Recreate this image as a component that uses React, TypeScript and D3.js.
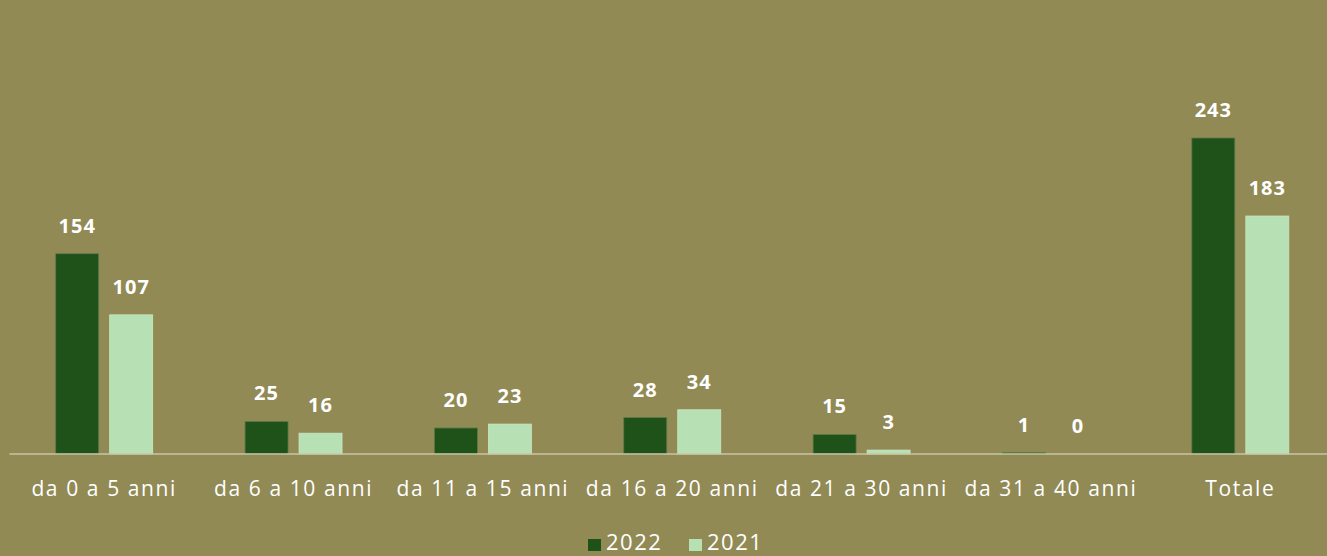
import React from "react";
import * as d3 from "d3";

const categories = ["da 0 a 5 anni", "da 6 a 10 anni", "da 11 a 15 anni", "da 16 a 20 anni", "da 21 a 30 anni", "da 31 a 40 anni", "Totale"];
const seriesNames = ["2022", "2021"];
const values2022 = [154, 25, 20, 28, 15, 1, 243];
const values2021 = [107, 16, 23, 34, 3, 0, 183];
const colors = ["#1F5219", "#B7E1B4"];

const W = 1327, H = 556;
const BG = "#918A55";
const FONT = "'Open Sans', Lato, sans-serif";

export default function App() {
  const x = d3.scaleBand<string>().domain(categories).range([9.5, 1335]).paddingInner(0).paddingOuter(0);
  const baseline = 454;
  const y = d3.scaleLinear().domain([0, 243]).range([baseline, 138]);
  const barW = 43;
  const gap = 11;
  const series = [values2022, values2021];
  return (
    <div style={{ position: "absolute", left: 0, top: 0, width: W, height: H, overflow: "hidden", background: BG }}>
      <svg width={W} height={H} style={{ display: "block" }}>
        <rect x={0} y={0} width={W} height={H} fill={BG} />
        {categories.map((c, i) => {
          const cx = (x(c) as number) + x.bandwidth() / 2;
          return (
            <g key={c}>
              {series.map((vals, s) => {
                const bx = s === 0 ? cx - gap / 2 - barW : cx + gap / 2;
                const v = vals[i];
                const top = y(v);
                return (
                  <g key={s}>
                    {v > 0 && (
                      <rect x={bx} y={top} width={barW} height={Math.max(baseline - top, 1)} fill={colors[s]}
                        stroke={s === 0 ? "#5E7A4A" : "#C9E8C4"} strokeWidth={0.8} />
                    )}
                    <text x={bx + barW / 2} y={top - 21} textAnchor="middle" fill="#FFFFFF" fontFamily={FONT}
                      fontWeight={700} fontSize={20} letterSpacing={1}>{v}</text>
                  </g>
                );
              })}
              <text x={cx} y={496} textAnchor="middle" fill="#FFFFFF" fontFamily={FONT} fontSize={21} letterSpacing={1.6}>{c}</text>
            </g>
          );
        })}
        <line x1={9.5} x2={W} y1={baseline} y2={baseline} stroke="#C9C5A6" strokeWidth={1.5} />
        <g>
          {seriesNames.map((n, s) => {
            const lx = s === 0 ? 588 : 689;
            return (
              <g key={n}>
                <rect x={lx} y={539} width={13} height={12} fill={colors[s]} />
                <text x={lx + 18} y={550} fill="#FFFFFF" fontFamily={FONT} fontSize={22} letterSpacing={1.5}>{n}</text>
              </g>
            );
          })}
        </g>
      </svg>
    </div>
  );
}
